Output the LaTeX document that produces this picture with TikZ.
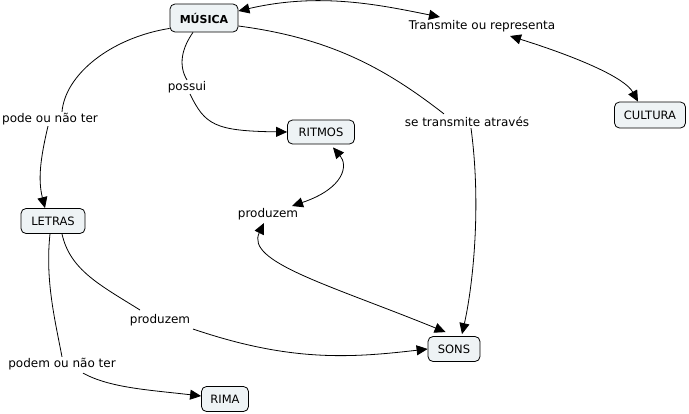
\documentclass[tikz,border=0pt]{standalone}
\usepackage{fontspec}
\setmainfont{DejaVu Sans}
\usetikzlibrary{arrows.meta,calc}
\definecolor{conceptfill}{HTML}{EEF3F5}
\tikzset{
  concept/.style={draw=black, fill=conceptfill, rounded corners=5pt, line width=0.8pt,
    font=\fontsize{11.5}{13}\selectfont, inner sep=0pt, minimum height=25pt},
  linklabel/.style={font=\fontsize{12}{14}\selectfont, inner sep=1pt},
  conn/.style={line width=0.8pt},
  tip/.style={-{Triangle[length=11pt,width=10pt]}},
  dtip/.style={{Triangle[length=11pt,width=10pt]}-{Triangle[length=11pt,width=10pt]}}
}
\begin{document}
\begin{tikzpicture}[x=1pt,y=-1pt]
\useasboundingbox (0,0) rectangle (689,413);
% concepts
\node[concept, minimum width=68pt, minimum height=28pt, font=\fontsize{11}{12}\selectfont\bfseries] (musica) at (204,18) {MÚSICA};
\node[concept, minimum width=71pt, minimum height=26pt] (cultura) at (650,115) {CULTURA};
\node[concept, minimum width=67pt, minimum height=24pt] (ritmos) at (321,132) {RITMOS};
\node[concept, minimum width=64pt] (letras) at (53,221) {LETRAS};
\node[concept, minimum width=52pt] (sons) at (454,349) {SONS};
\node[concept, minimum width=47pt] (rima) at (225,399) {RIMA};
% link labels
\node[linklabel] (trans) at (482,26) {Transmite ou representa};
\node[linklabel] (possui) at (187,87) {possui};
\node[linklabel] (pode) at (50,119) {pode ou não ter};
\node[linklabel] (seT) at (467,122) {se transmite através};
\node[linklabel] (prodA) at (268,214) {produzem};
\node[linklabel] (prodB) at (160,320) {produzem};
\node[linklabel] (podem) at (62,364) {podem ou não ter};
% named end points
\coordinate (mE1) at ([yshift=7pt]musica.east);
\coordinate (mE2) at ([yshift=-8pt]musica.east);
\coordinate (mSW) at ([yshift=4pt]musica.south west);
\coordinate (mS) at ([xshift=-11pt]musica.south);
\coordinate (tIn) at ([xshift=-42pt,yshift=2pt]trans.north);
\coordinate (tOut) at ([xshift=28pt,yshift=-3pt]trans.south);
\coordinate (pIn) at ([xshift=12pt]pode.north);
\coordinate (pOut) at ([xshift=-2pt]pode.south);
\coordinate (sIn) at ([xshift=-23pt,yshift=2pt]seT.north);
\coordinate (sOut) at ([xshift=4pt]seT.south);
\coordinate (rS) at ([xshift=12pt,yshift=-3pt]ritmos.south);
\coordinate (aNE) at ([xshift=24pt,yshift=1pt]prodA.north);
\coordinate (aS) at ([xshift=-4pt,yshift=-2pt]prodA.south);
\coordinate (bIn) at ([xshift=-20pt,yshift=3pt]prodB.north);
\coordinate (bOut) at ([xshift=33pt,yshift=-2pt]prodB.south);
\coordinate (lS1) at ([xshift=-3pt]letras.south);
\coordinate (lS2) at ([xshift=9pt]letras.south);
\coordinate (qOut) at ([xshift=21pt,yshift=-2pt]podem.south);
\coordinate (sonNW) at ([xshift=18pt,yshift=4pt]sons.north west);
\coordinate (sonN) at ([xshift=8pt,yshift=2pt]sons.north);
% connectors
\draw[conn,dtip] (mE1) .. controls (320,-8) and (380,5) .. (tIn);
\draw[conn,dtip] (tOut) .. controls (580,58) and (625,78) .. ([xshift=-12pt]cultura.north);
\draw[conn] (mSW) .. controls (110,38) and (65,75) .. (pIn);
\draw[conn,tip] (pOut) .. controls (40,160) and (38,180) .. ([xshift=-8pt]letras.north);
\draw[conn] (mS) .. controls (182,48) and (178,65) .. (possui.north);
\draw[conn,tip] ([xshift=3pt]possui.south) .. controls (205,125) and (215,131) .. (ritmos.west);
\draw[conn] (mE2) .. controls (330,38) and (385,68) .. (sIn);
\draw[conn,tip] (sOut) .. controls (482,210) and (472,290) .. (sonN);
\draw[conn,dtip] (rS) .. controls (348,165) and (345,188) .. (aNE);
\draw[conn,dtip] (aS) .. controls (245,262) and (330,285) .. (sonNW);
\draw[conn] (lS2) .. controls (70,270) and (100,285) .. (bIn);
\draw[conn,tip] (bOut) .. controls (290,362) and (350,358) .. (sons.west);
\draw[conn] (lS1) .. controls (45,280) and (55,320) .. (podem.north);
\draw[conn,tip] (qOut) .. controls (110,388) and (150,390) .. ([yshift=3pt]rima.west);
\end{tikzpicture}
\end{document}
